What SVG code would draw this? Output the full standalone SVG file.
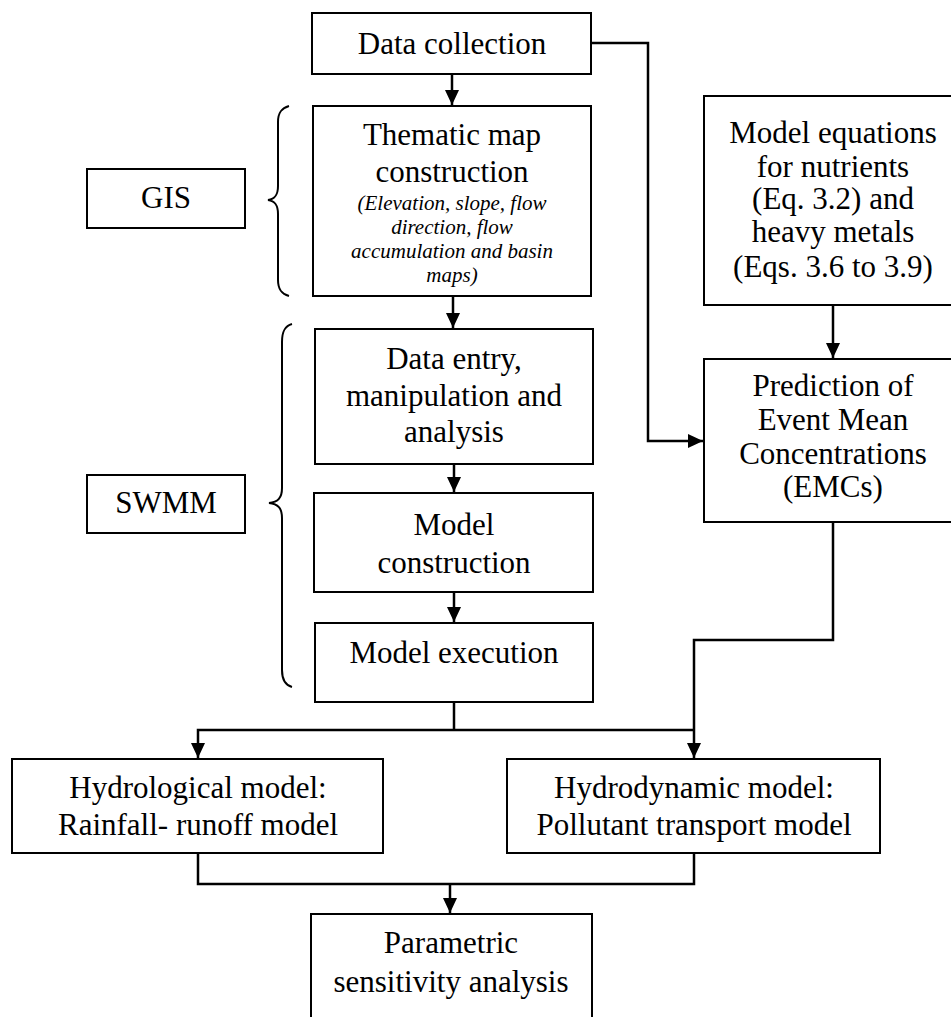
<svg xmlns="http://www.w3.org/2000/svg" width="951" height="1017" viewBox="0 0 951 1017">
<style>
.box{fill:#fff;stroke:#000;stroke-width:2}
.t{font-family:'Liberation Serif','Times New Roman',serif;font-size:31px;fill:#000;text-anchor:middle}
.it{font-family:'Liberation Serif','Times New Roman',serif;font-size:21px;font-style:italic;fill:#000;text-anchor:middle}
.c{fill:none;stroke:#000;stroke-width:2.5}
.br{fill:none;stroke:#000;stroke-width:2}
</style>
<defs>
<marker id="ah" markerUnits="userSpaceOnUse" markerWidth="16" markerHeight="16" viewBox="0 0 16 16" refX="15" refY="8" orient="auto">
<path d="M0,1 L15,8 L0,15 Z" fill="#000"/>
</marker>
</defs>
<rect width="951" height="1017" fill="#fff"/>
<g id="connectors">
<path class="c" d="M452,74 V105" marker-end="url(#ah)"/>
<path class="c" d="M591,43 H648 V441 H703" marker-end="url(#ah)"/>
<path class="c" d="M453,296 V328" marker-end="url(#ah)"/>
<path class="c" d="M454,464 V492" marker-end="url(#ah)"/>
<path class="c" d="M454,592 V622" marker-end="url(#ah)"/>
<path class="c" d="M454,702 V730"/>
<path class="c" d="M454,730 H198 V758" marker-end="url(#ah)"/>
<path class="c" d="M454,730 H694"/>
<path class="c" d="M833,305 V358" marker-end="url(#ah)"/>
<path class="c" d="M833,522 V640 H694 V758" marker-end="url(#ah)"/>
<path class="c" d="M198,853 V884 H694 V853"/>
<path class="c" d="M450,884 V913" marker-end="url(#ah)"/>
</g>
<g id="brace-gis">
<path class="br" d="M289,106 C282,108 278,112 278,122 L278,186 C278,195 275,199 268,200 C275,201 278,205 278,214 L278,280 C278,290 282,294 289,296"/>
</g>
<g id="brace-swmm">
<path class="br" d="M292,324 C285,326 282,331 282,342 L282,488 C282,498 278,502 269,503 C278,504 282,508 282,518 L282,670 C282,680 285,685 292,687"/>
</g>
<g id="data-collection">
<rect class="box" x="312" y="13" width="279" height="61"/>
<text class="t" x="452" y="54">Data collection</text>
</g>
<g id="thematic">
<rect class="box" x="313" y="106" width="278" height="190"/>
<text class="t" x="452" y="145">Thematic map</text>
<text class="t" x="452" y="182">construction</text>
<text class="it" x="452" y="210">(Elevation, slope, flow</text>
<text class="it" x="452" y="234">direction, flow</text>
<text class="it" x="452" y="258">accumulation and basin</text>
<text class="it" x="452" y="282">maps)</text>
</g>
<g id="gis">
<rect class="box" x="87" y="169" width="158" height="59"/>
<text class="t" x="166" y="208">GIS</text>
</g>
<g id="swmm">
<rect class="box" x="87" y="475" width="158" height="58"/>
<text class="t" x="166" y="513">SWMM</text>
</g>
<g id="data-entry">
<rect class="box" x="315" y="329" width="278" height="135"/>
<text class="t" x="454" y="369">Data entry,</text>
<text class="t" x="454" y="406">manipulation and</text>
<text class="t" x="454" y="442">analysis</text>
</g>
<g id="model-construction">
<rect class="box" x="314" y="493" width="279" height="99"/>
<text class="t" x="454" y="535">Model</text>
<text class="t" x="454" y="573">construction</text>
</g>
<g id="model-execution">
<rect class="box" x="315" y="623" width="278" height="79"/>
<text class="t" x="454" y="663">Model execution</text>
</g>
<g id="model-equations">
<rect class="box" x="704" y="96" width="262" height="209"/>
<text class="t" x="833" y="143">Model equations</text>
<text class="t" x="833" y="177">for nutrients</text>
<text class="t" x="833" y="209">(Eq. 3.2) and</text>
<text class="t" x="833" y="242">heavy metals</text>
<text class="t" x="833" y="277">(Eqs. 3.6 to 3.9)</text>
</g>
<g id="prediction">
<rect class="box" x="704" y="359" width="262" height="163"/>
<text class="t" x="833" y="396">Prediction of</text>
<text class="t" x="833" y="430">Event Mean</text>
<text class="t" x="833" y="464">Concentrations</text>
<text class="t" x="833" y="497">(EMCs)</text>
</g>
<g id="hydrological">
<rect class="box" x="12" y="759" width="371" height="94"/>
<text class="t" x="198" y="798">Hydrological model:</text>
<text class="t" x="198" y="835">Rainfall- runoff model</text>
</g>
<g id="hydrodynamic">
<rect class="box" x="507" y="759" width="373" height="94"/>
<text class="t" x="694" y="798">Hydrodynamic model:</text>
<text class="t" x="694" y="835">Pollutant transport model</text>
</g>
<g id="parametric">
<rect class="box" x="311" y="914" width="281" height="120"/>
<text class="t" x="451" y="953">Parametric</text>
<text class="t" x="451" y="992">sensitivity analysis</text>
</g>
</svg>
